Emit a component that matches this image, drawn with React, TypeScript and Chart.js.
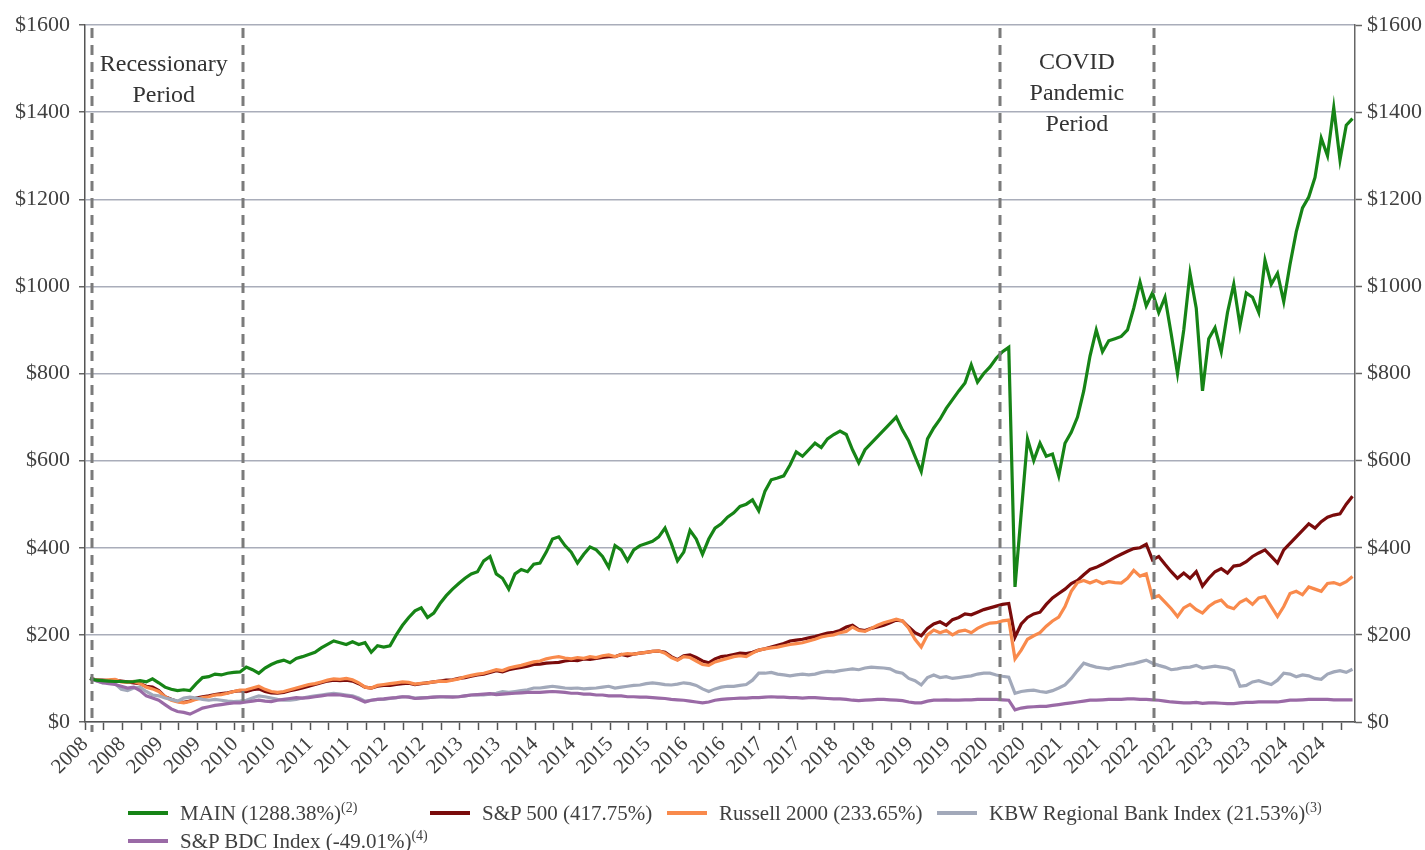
import React, { useEffect, useRef } from "react";
import { Chart, registerables } from "chart.js";

Chart.register(...registerables);

// Monthly values, index 0 = start of 2008 (growth of $100)
const mainValues = [
  100, 96, 95, 94, 93, 93, 92, 93, 95, 92, 99, 90,
  80, 75, 72, 74, 72, 88, 102, 104, 110, 108, 112, 114,
  115, 126, 120, 112, 124, 132, 138, 142, 136, 146, 150, 155,
  160, 170, 178, 186, 182, 178, 184, 178, 182, 160, 175, 172,
  175, 200, 222, 240, 255, 262, 240, 250, 272, 290, 305, 318,
  330, 340, 345, 370, 380, 340, 330, 305, 340, 350, 345, 362,
  365, 390, 420, 425, 405, 390, 365, 385, 402, 395, 380, 355,
  405, 395, 370, 395, 405, 410, 415, 425, 445, 410, 370, 390,
  440, 420, 385, 420, 445, 455, 470, 480, 495, 500, 510, 485,
  530, 556, 560, 565, 590, 620, 610, 625, 640, 630, 650, 660,
  668, 660, 625, 595, 625, 640, 655, 670, 685, 700, 670, 645,
  610, 575, 650, 675, 695, 720, 740, 760, 778, 820, 780, 800,
  815, 835, 850, 860, 310, 480, 650, 600, 640, 610, 615, 565,
  640, 665, 700, 760, 840, 900, 850, 875, 880, 885, 900, 950,
  1010, 955, 985, 940, 975, 890, 800, 900, 1030, 950, 760, 880,
  905, 850, 940, 1005, 910, 985, 975, 940, 1060, 1005, 1030, 965,
  1050, 1125, 1180, 1205, 1250, 1340, 1300, 1410, 1290, 1370, 1385,
];

const sp500Values = [
  100, 97, 96, 95, 96, 94, 92, 90, 88, 82, 80, 72,
  58, 52, 47, 45, 48, 55, 58, 60, 63, 65, 67, 70,
  72, 70, 74, 76, 70, 67, 66, 68, 72, 75, 78, 82,
  86, 90, 94, 96, 95, 96, 94, 88, 80, 78, 82, 84,
  84, 86, 88, 89, 86, 88, 90, 92, 94, 96, 97, 100,
  102, 105, 108, 110, 114, 118, 115, 120, 123, 125, 128, 132,
  133, 135, 136, 137, 140, 142, 141, 145, 144, 146, 148, 150,
  150, 155, 152, 156, 158, 160, 162, 163, 160, 150, 143, 152,
  154, 148, 140, 136, 145, 150, 152, 155, 158, 157, 160, 165,
  168, 172, 176, 180, 186, 188, 190, 193, 196, 200, 204, 206,
  210, 218, 222, 212, 210, 215, 218, 222, 228, 234, 232, 218,
  205, 198, 215, 225, 230, 222, 235, 240, 248, 246, 252, 258,
  262, 266, 270, 272, 195, 225, 240, 248, 252, 270, 285, 295,
  305, 318, 325, 338, 350, 355, 362, 370, 378, 385, 392, 398,
  400, 408, 372, 380, 362, 345, 330, 342, 330, 345, 312, 330,
  345, 352, 342, 358, 360, 368, 380, 388, 395, 380, 365, 395,
  410, 425, 440, 455, 445, 460, 470, 475, 478, 500, 518,
];

const russellValues = [
  100, 96, 95, 97, 98, 92, 91, 93, 88, 80, 76, 70,
  58, 50, 46, 44, 47, 52, 56, 58, 62, 63, 66, 70,
  73, 74, 78, 82, 75, 70, 68, 70, 74, 78, 82, 86,
  88, 92, 96, 99, 98, 100, 97, 90, 80, 78, 84, 86,
  88, 90, 92, 91, 87, 89, 90, 92, 94, 93, 96, 99,
  104, 107, 110, 112, 116, 120, 118, 124, 127, 130, 134, 138,
  140, 145, 148, 150, 147, 145, 148, 146, 150, 148, 152, 154,
  150, 155, 157, 156, 158, 160, 162, 163, 158, 148, 142, 150,
  148, 140, 132, 130, 138, 142, 146, 150, 152, 150, 158, 165,
  168, 170, 172, 175, 178, 180, 182, 186, 190, 195, 198, 200,
  205, 208, 218, 210, 208, 215, 222, 228, 232, 236, 232, 215,
  190, 172, 200, 211, 205, 210, 200, 208, 211, 205, 215, 222,
  227, 228, 232, 234, 145, 165, 190, 198, 205, 220, 232, 241,
  265, 300, 320, 325, 319, 325, 318, 322, 320, 319, 330, 348,
  335, 340, 285, 290, 275, 260, 242, 262, 270, 258, 250, 265,
  275, 280, 265, 260, 275, 282, 270, 285, 288, 265, 242, 265,
  295, 300, 292, 310, 305, 300, 318, 320, 315, 322, 334,
];

const kbwValues = [
  100, 95, 90, 92, 88, 75, 72, 78, 80, 70, 62, 60,
  55, 52, 48, 55, 57, 55, 52, 50, 52, 50, 48, 47,
  48, 50, 55, 60, 58, 55, 52, 50, 50, 52, 55, 58,
  60, 62, 64, 66, 64, 62, 60, 55, 48, 50, 52, 52,
  54, 56, 58, 58, 55, 56, 56, 57, 58, 57, 58, 58,
  60, 62, 63, 62, 64, 66, 70, 68, 70, 72, 74, 78,
  78, 80, 82, 80, 78, 77, 78, 76, 77, 78, 80, 82,
  78, 80, 82, 84, 85, 88, 90, 88, 86, 85, 87, 90,
  88, 84, 76, 70, 76, 80, 82, 82, 84, 86, 96, 112,
  112, 114, 110, 108, 106, 108, 110, 108, 110, 114, 116, 115,
  118, 120, 122, 120, 124, 126, 125, 124, 122, 115, 112, 100,
  95, 85, 102, 108, 102, 104, 100, 102, 104, 106, 110, 112,
  112, 108, 105, 103, 66, 70, 72, 73, 70, 68, 72, 78,
  85, 100, 118, 135, 130, 126, 124, 122, 126, 128, 132, 134,
  138, 142, 135, 130, 126, 120, 122, 125, 126, 130, 124, 126,
  128, 126, 124, 118, 82, 84, 92, 95, 90, 86, 96, 112,
  110, 104, 108, 106, 100, 98, 110, 115, 118, 114, 121,
];

const bdcValues = [
  100, 95, 90, 88, 86, 82, 78, 80, 72, 60, 55, 50,
  40, 30, 24, 22, 18, 25, 32, 35, 38, 40, 42, 44,
  44, 46, 48, 50, 48, 47, 50, 52, 54, 56, 55, 56,
  58, 60, 62, 63, 62, 60, 58, 52, 46, 50, 52, 53,
  55, 56, 58, 57, 54, 55, 56, 57, 58, 58, 57, 58,
  60, 62, 63, 64, 65, 63, 64, 65, 66, 67, 68, 68,
  68, 69, 70, 69, 68, 66, 66, 64, 64, 62, 62, 60,
  60, 60, 58, 58, 57, 57, 56, 55, 54, 52, 51, 50,
  48, 46, 44, 46, 50, 52, 53, 54, 55, 55, 56, 56,
  57, 58, 57, 57, 56, 56, 55, 56, 56, 55, 54, 53,
  53, 52, 50, 49, 50, 51, 52, 52, 51, 50, 49, 46,
  44, 44, 48, 50, 50, 51, 50, 50, 51, 51, 52, 52,
  52, 52, 51, 50, 28, 32, 34, 35, 36, 36, 38, 40,
  42, 44, 46, 48, 50, 50, 51, 52, 52, 52, 53, 53,
  52, 52, 51, 50, 48, 46, 45, 44, 44, 45, 43, 44,
  44, 43, 42, 42, 44, 45, 45, 46, 46, 46, 46, 48,
  50, 50, 51, 52, 52, 52, 52, 51, 51, 51, 51,
];

const seriesNames = [
  "MAIN (1288.38%)",
  "S&P 500 (417.75%)",
  "Russell 2000 (233.65%)",
  "KBW Regional Bank Index (21.53%)",
  "S&P BDC Index (-49.01%)",
];
const seriesNotes = ["(2)", "", "", "(3)", "(4)"];
const seriesColors = ["#168416", "#7a0b0b", "#f98a4c", "#a2a9ba", "#9a6aa6"];
const seriesOrder = [0, 4, 3, 2, 1];
const seriesValues = [mainValues, sp500Values, russellValues, kbwValues, bdcValues];

const xTickLabels = [
  "2008", "2008", "2009", "2009", "2010", "2010", "2011", "2011", "2012", "2012",
  "2013", "2013", "2014", "2014", "2015", "2015", "2016", "2016", "2017", "2017",
  "2018", "2018", "2019", "2019", "2020", "2020", "2021", "2021", "2022", "2022",
  "2023", "2023", "2024", "2024",
];

const yTickValues = [0, 200, 400, 600, 800, 1000, 1200, 1400, 1600];

// period boundaries (month index) and labels
const eventLines = [0.27, 24.5, 145.6, 170.3];
const periodLabels = [
  { lines: ["Recessionary", "Period"], x: 11.8, y: [1508, 1437] },
  { lines: ["COVID", "Pandemic", "Period"], x: 157.9, y: [1513, 1442, 1371] },
];

const legendPositions = [
  { left: 128, top: 813 },
  { left: 430, top: 813 },
  { left: 667, top: 813 },
  { left: 937, top: 813 },
  { left: 128, top: 841 },
];

const X_MIN = -0.8;
const X_MAX = 202.4;
const FONT = "'Liberation Serif', 'Times New Roman', serif";

const xTickPositions: number[] = [];
for (let k = 0; k < xTickLabels.length * 2; k++) xTickPositions.push(X_MIN + 3 * k);

const periodPlugin = {
  id: "periods",
  afterDatasetsDraw(chart: any) {
    const { ctx, chartArea, scales } = chart;
    const xs = scales.x;
    const ys = scales.y;
    ctx.save();
    ctx.strokeStyle = "#7b7b7b";
    ctx.lineWidth = 3;
    ctx.setLineDash([10, 7]);
    eventLines.forEach((v) => {
      const px = Math.round(xs.getPixelForValue(v));
      ctx.beginPath();
      ctx.moveTo(px, chartArea.top + 3);
      ctx.lineTo(px, chartArea.bottom + 10);
      ctx.stroke();
    });
    ctx.setLineDash([]);
    ctx.fillStyle = "#333";
    ctx.font = `24px ${FONT}`;
    ctx.textAlign = "center";
    ctx.textBaseline = "middle";
    periodLabels.forEach((p) => {
      p.lines.forEach((t, i) => {
        ctx.fillText(t, xs.getPixelForValue(p.x), ys.getPixelForValue(p.y[i]));
      });
    });
    ctx.restore();
  },
};

export default function App() {
  const ref = useRef<HTMLCanvasElement>(null);

  useEffect(() => {
    Chart.defaults.font.family = FONT;
    const datasets = seriesValues.map((vals, s) => ({
      label: seriesNames[s],
      data: vals.map((v, i) => ({ x: i, y: v })),
      borderColor: seriesColors[s],
      backgroundColor: seriesColors[s],
      borderWidth: 3.2,
      pointRadius: 0,
      tension: 0,
      fill: false,
      order: seriesOrder[s],
    }));
    const yTicks = {
      font: { size: 22 },
      color: "#404040",
      callback: (v: number) => "$" + v,
    };
    const chart = new Chart(ref.current as HTMLCanvasElement, {
      type: "line",
      data: { datasets },
      options: {
        animation: false,
        responsive: false,
        devicePixelRatio: 1,
        layout: { padding: { top: 25, left: 0, right: 0, bottom: 0 } },
        plugins: { legend: { display: false }, tooltip: { enabled: false } },
        scales: {
          x: {
            type: "linear",
            min: X_MIN,
            max: X_MAX,
            afterBuildTicks: (scale: any) => {
              scale.ticks = xTickPositions.map((v) => ({ value: v }));
            },
            afterFit: (scale: any) => {
              scale.height = 128;
            },
            ticks: {
              autoSkip: false,
              minRotation: 45,
              maxRotation: 45,
              padding: 2,
              font: { size: 21 },
              color: "#404040",
              callback: (_v: any, idx: number) => (idx % 2 === 0 ? xTickLabels[idx / 2] : ""),
            },
            grid: { drawOnChartArea: false, tickLength: 8, tickColor: "#555", tickWidth: 1.5 },
            border: { color: "#555", width: 1.5 },
          },
          y: {
            position: "left",
            min: 0,
            max: 1600,
            afterBuildTicks: (scale: any) => {
              scale.ticks = yTickValues.map((v) => ({ value: v }));
            },
            afterFit: (scale: any) => {
              scale.width = 85;
            },
            ticks: { ...yTicks, padding: 9 },
            grid: { color: "#a9adba", lineWidth: 1.5, tickLength: 6, tickColor: "#666", tickWidth: 1.5 },
            border: { color: "#555", width: 1.5 },
          },
          y2: {
            position: "right",
            min: 0,
            max: 1600,
            afterBuildTicks: (scale: any) => {
              scale.ticks = yTickValues.map((v) => ({ value: v }));
            },
            afterFit: (scale: any) => {
              scale.width = 70;
            },
            ticks: { ...yTicks, padding: 5 },
            grid: { drawOnChartArea: false, tickLength: 7, tickColor: "#666", tickWidth: 1.5 },
            border: { color: "#666", width: 1.5 },
          },
        },
      },
      plugins: [periodPlugin],
    } as any);
    return () => chart.destroy();
  }, []);

  return (
    <div style={{ position: "absolute", left: 0, top: 0, width: 1425, height: 850, background: "#fff", overflow: "hidden" }}>
      <canvas ref={ref} width={1425} height={850} style={{ display: "block", width: 1425, height: 850 }} />
      {seriesNames.map((name, s) => (
        <div
          key={name}
          style={{
            position: "absolute",
            left: legendPositions[s].left,
            top: legendPositions[s].top - 13,
            height: 26,
            display: "flex",
            alignItems: "center",
            whiteSpace: "nowrap",
            fontFamily: FONT,
            fontSize: 21,
            color: "#404040",
          }}
        >
          <span style={{ display: "inline-block", width: 40, height: 4, background: seriesColors[s], marginRight: 12 }} />
          <span>
            {name}
            {seriesNotes[s] ? (
              <sup style={{ fontSize: 14, verticalAlign: "8px", lineHeight: 0 }}>{seriesNotes[s]}</sup>
            ) : null}
          </span>
        </div>
      ))}
    </div>
  );
}
